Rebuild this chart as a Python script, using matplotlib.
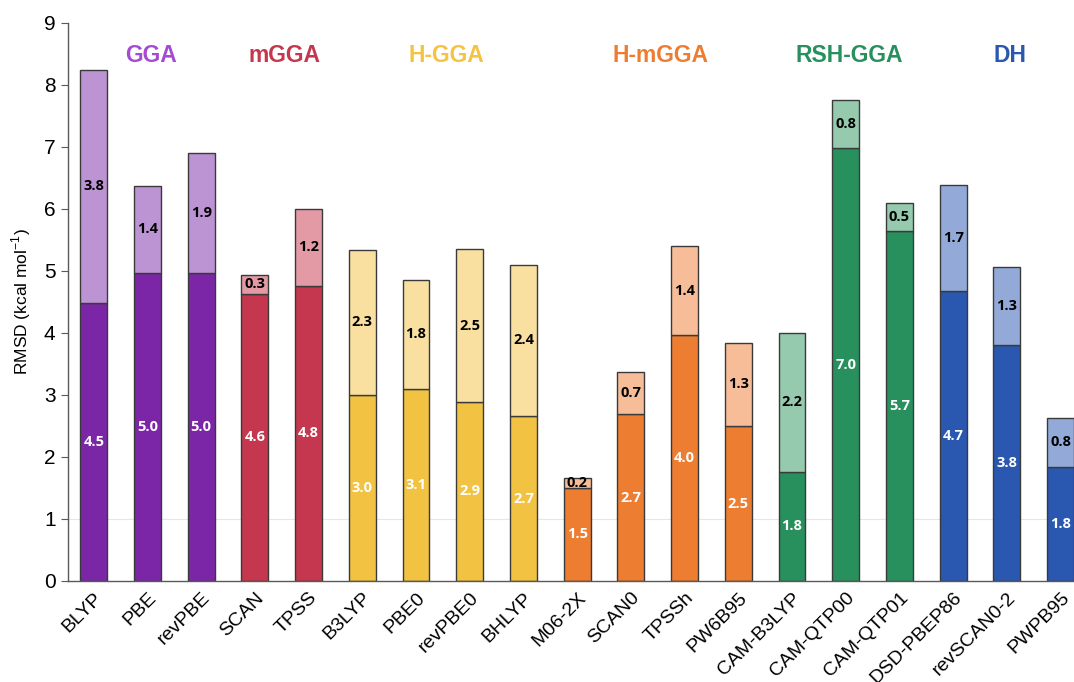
import numpy as np
import matplotlib
matplotlib.use("Agg")
import matplotlib.pyplot as plt

plt.rcParams['font.family'] = ['Liberation Sans', 'DejaVu Sans']

functionals = ["BLYP", "PBE", "revPBE", "SCAN", "TPSS", "B3LYP", "PBE0", "revPBE0",
               "BHLYP", "M06-2X", "SCAN0", "TPSSh", "PW6B95", "CAM-B3LYP",
               "CAM-QTP00", "CAM-QTP01", "DSD-PBEP86", "revSCAN0-2", "PWPB95"]
# lower segment of each bar and the extra amount stacked on top
base = [4.49, 4.97, 4.97, 4.63, 4.76, 3.00, 3.10, 2.89,
        2.66, 1.50, 2.69, 3.96, 2.50, 1.76,
        6.98, 5.65, 4.68, 3.81, 1.84]
extra = [3.76, 1.40, 1.94, 0.31, 1.24, 2.34, 1.76, 2.46,
         2.44, 0.16, 0.68, 1.44, 1.34, 2.24,
         0.78, 0.45, 1.71, 1.26, 0.79]

groups = ["GGA", "mGGA", "H-GGA", "H-mGGA", "RSH-GGA", "DH"]
group_sizes = [3, 2, 4, 4, 3, 3]
dark_colors = ["#7B26A6", "#C4374E", "#F2C243", "#ED7D31", "#27905D", "#2A57B0"]
light_colors = ["#BC94D3", "#E39AA5", "#F9E0A0", "#F6BD98", "#95CAAE", "#93AAD9"]
label_colors = ["#A54BD3", "#C4374E", "#F5C242", "#ED7D31", "#27905D", "#2A57B0"]

fig = plt.figure(figsize=(10.74, 6.82), dpi=100)
ax = fig.add_axes([68 / 1074, 101 / 682, 1 - 68 / 1074, 558 / 682])

x = np.arange(len(functionals))
dark = np.repeat(dark_colors, group_sizes)
light = np.repeat(light_colors, group_sizes)

ax.axhline(1, color="#e6e6e6", lw=0.8, zorder=0)
ax.bar(x, base, width=0.5, color=dark, edgecolor="#3a3a3a", lw=1.0, zorder=2)
ax.bar(x, extra, width=0.5, bottom=base, color=light, edgecolor="#3a3a3a", lw=1.0, zorder=2)

num_font = ["Open Sans", "DejaVu Sans"]
for xi, b, e in zip(x, base, extra):
    ax.text(xi, b / 2, f"{b:.1f}", ha="center", va="center", color="white",
            fontsize=10.5, fontweight="bold", family=num_font, zorder=3)
    ax.text(xi, b + e / 2, f"{e:.1f}", ha="center", va="center", color="black",
            fontsize=10.5, fontweight="bold", family=num_font, zorder=3)

# category names above each family of functionals
start = 0
for name, n, c in zip(groups, group_sizes, label_colors):
    cx = start + (n - 1) / 2 + 0.06
    ax.text(cx, 8.48, name, ha="center", va="center", color=c,
            fontsize=16.5, fontweight="bold")
    start += n

ax.set_xlim(-0.48, 18.25)
ax.set_ylim(0, 9)
ax.set_yticks(range(10))
ax.tick_params(axis="y", labelsize=15, length=5, color="#595959", pad=4)
ax.tick_params(axis="x", length=0, pad=6)
ax.set_xticks(x)
ax.set_xticklabels(functionals, rotation=45, ha="right", rotation_mode="anchor", fontsize=14)
ax.set_ylabel("RMSD (kcal mol$^{\\mathregular{-1}}$)", fontsize=12.5, labelpad=8)

for s in ["top", "right"]:
    ax.spines[s].set_visible(False)
for s in ["left", "bottom"]:
    ax.spines[s].set_color("#595959")
    ax.spines[s].set_linewidth(1.0)

fig.savefig("out.png", dpi=100)
